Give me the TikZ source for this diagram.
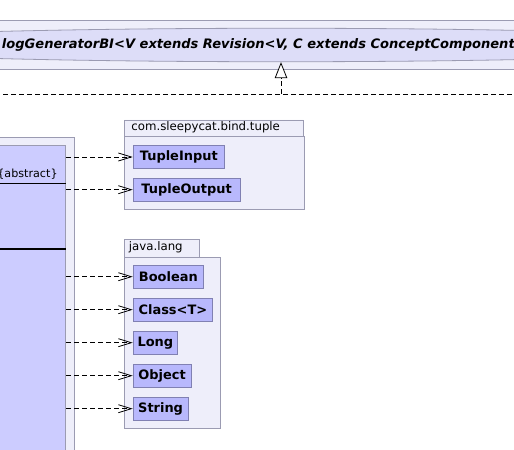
\documentclass[tikz,border=0pt]{standalone}
\usepackage{fontspec}
\setmainfont{DejaVu Sans}
\usetikzlibrary{arrows.meta,shapes.geometric}
\definecolor{pkgfill}{RGB}{238,238,250}
\definecolor{pkgline}{RGB}{155,155,178}
\definecolor{clsfill}{RGB}{204,204,255}
\definecolor{boxfill}{RGB}{184,184,252}
\definecolor{boxline}{RGB}{128,128,178}
\definecolor{ellfill}{RGB}{221,221,248}
\begin{document}
\begin{tikzpicture}[x=1bp,y=-1bp,line width=0.8bp,
	pkg/.style={draw=pkgline,fill=pkgfill},
	box/.style={draw=boxline,fill=boxfill,anchor=west,minimum height=22.7bp,inner sep=0pt,font=\fontsize{13}{15}\selectfont\bfseries},
	dep/.style={dash pattern=on 5bp off 3bp,-{Straight Barb[length=13bp,width=8bp]}}]
	\def\bx{132.7} % cot trai cua cac lop
	\useasboundingbox (0,0) rectangle (514,450);
	\clip (0,0) rectangle (514,450);
	\draw[pkg] (-5,20) rectangle (520,69);
	\node[ellipse,draw=pkgline,fill=ellfill,minimum width=960bp,minimum height=33.5bp] (iface) at (281,45) {};
	\node[anchor=west,inner sep=0pt,font=\fontsize{13.1}{15}\selectfont\bfseries\itshape] (ifname) at (1.5,45) {logGeneratorBI<V extends Revision<V, C extends ConceptComponent};
	\coordinate (jn) at (281,94);
	\draw[dash pattern=on 5bp off 3bp] (-5,94) -- (520,94);
	\draw[dash pattern=on 5bp off 3bp,-{Triangle[length=16bp,width=12.5bp,fill=white]}] (jn) -- (iface.south);
	\draw[pkg] (-5,137) rectangle (74,460);
	\node[draw=pkgline,fill=clsfill,anchor=north east,minimum width=71bp,minimum height=320bp] (gen) at (66,145) {};
	\node[anchor=base east,inner sep=0pt,font=\fontsize{11.2}{14}\selectfont] (abs) at (58,178) {\{abstract\}};
	\draw (-5,183.7) -- (gen.east |- 0,183.7);
	\draw[line width=2bp] (-5,249) -- (gen.east |- 0,249);
	\draw[pkg] (124.3,120) rectangle (303.3,136.7) (124.3,136.7) rectangle (304.3,209);
	\node[anchor=base west,inner sep=0pt,font=\fontsize{11.8}{14}\selectfont] (tuplepkg) at (131,130.5) {com.sleepycat.bind.tuple};
	\draw[pkg] (124.3,239.3) rectangle (199.3,257.3) (124.3,257.3) rectangle (220.7,428.3);
	\node[anchor=base west,inner sep=0pt,font=\fontsize{11.8}{14}\selectfont] (langpkg) at (128.5,250.5) {java.lang};
	\node[box,minimum width=91.4bp] (tin) at (\bx,157) {TupleInput};
	\node[box,minimum width=107bp] (tout) at (\bx,189.7) {TupleOutput};
	\draw[dep] (tin -| gen.east) -- (tin);
	\draw[dep] (tout -| gen.east) -- (tout);
	\foreach \nm/\txt/\w [count=\i from 0] in {bool/Boolean/70.6,clazz/Class<T>/79.6,long/Long/44.6,obj/Object/58,str/String/55}{
		\node[box,minimum width=\w bp] (\nm) at (\bx,276.7+33*\i) {\txt};
		\draw[dep] (\nm -| gen.east) -- (\nm);
	}
\end{tikzpicture}
\end{document}
